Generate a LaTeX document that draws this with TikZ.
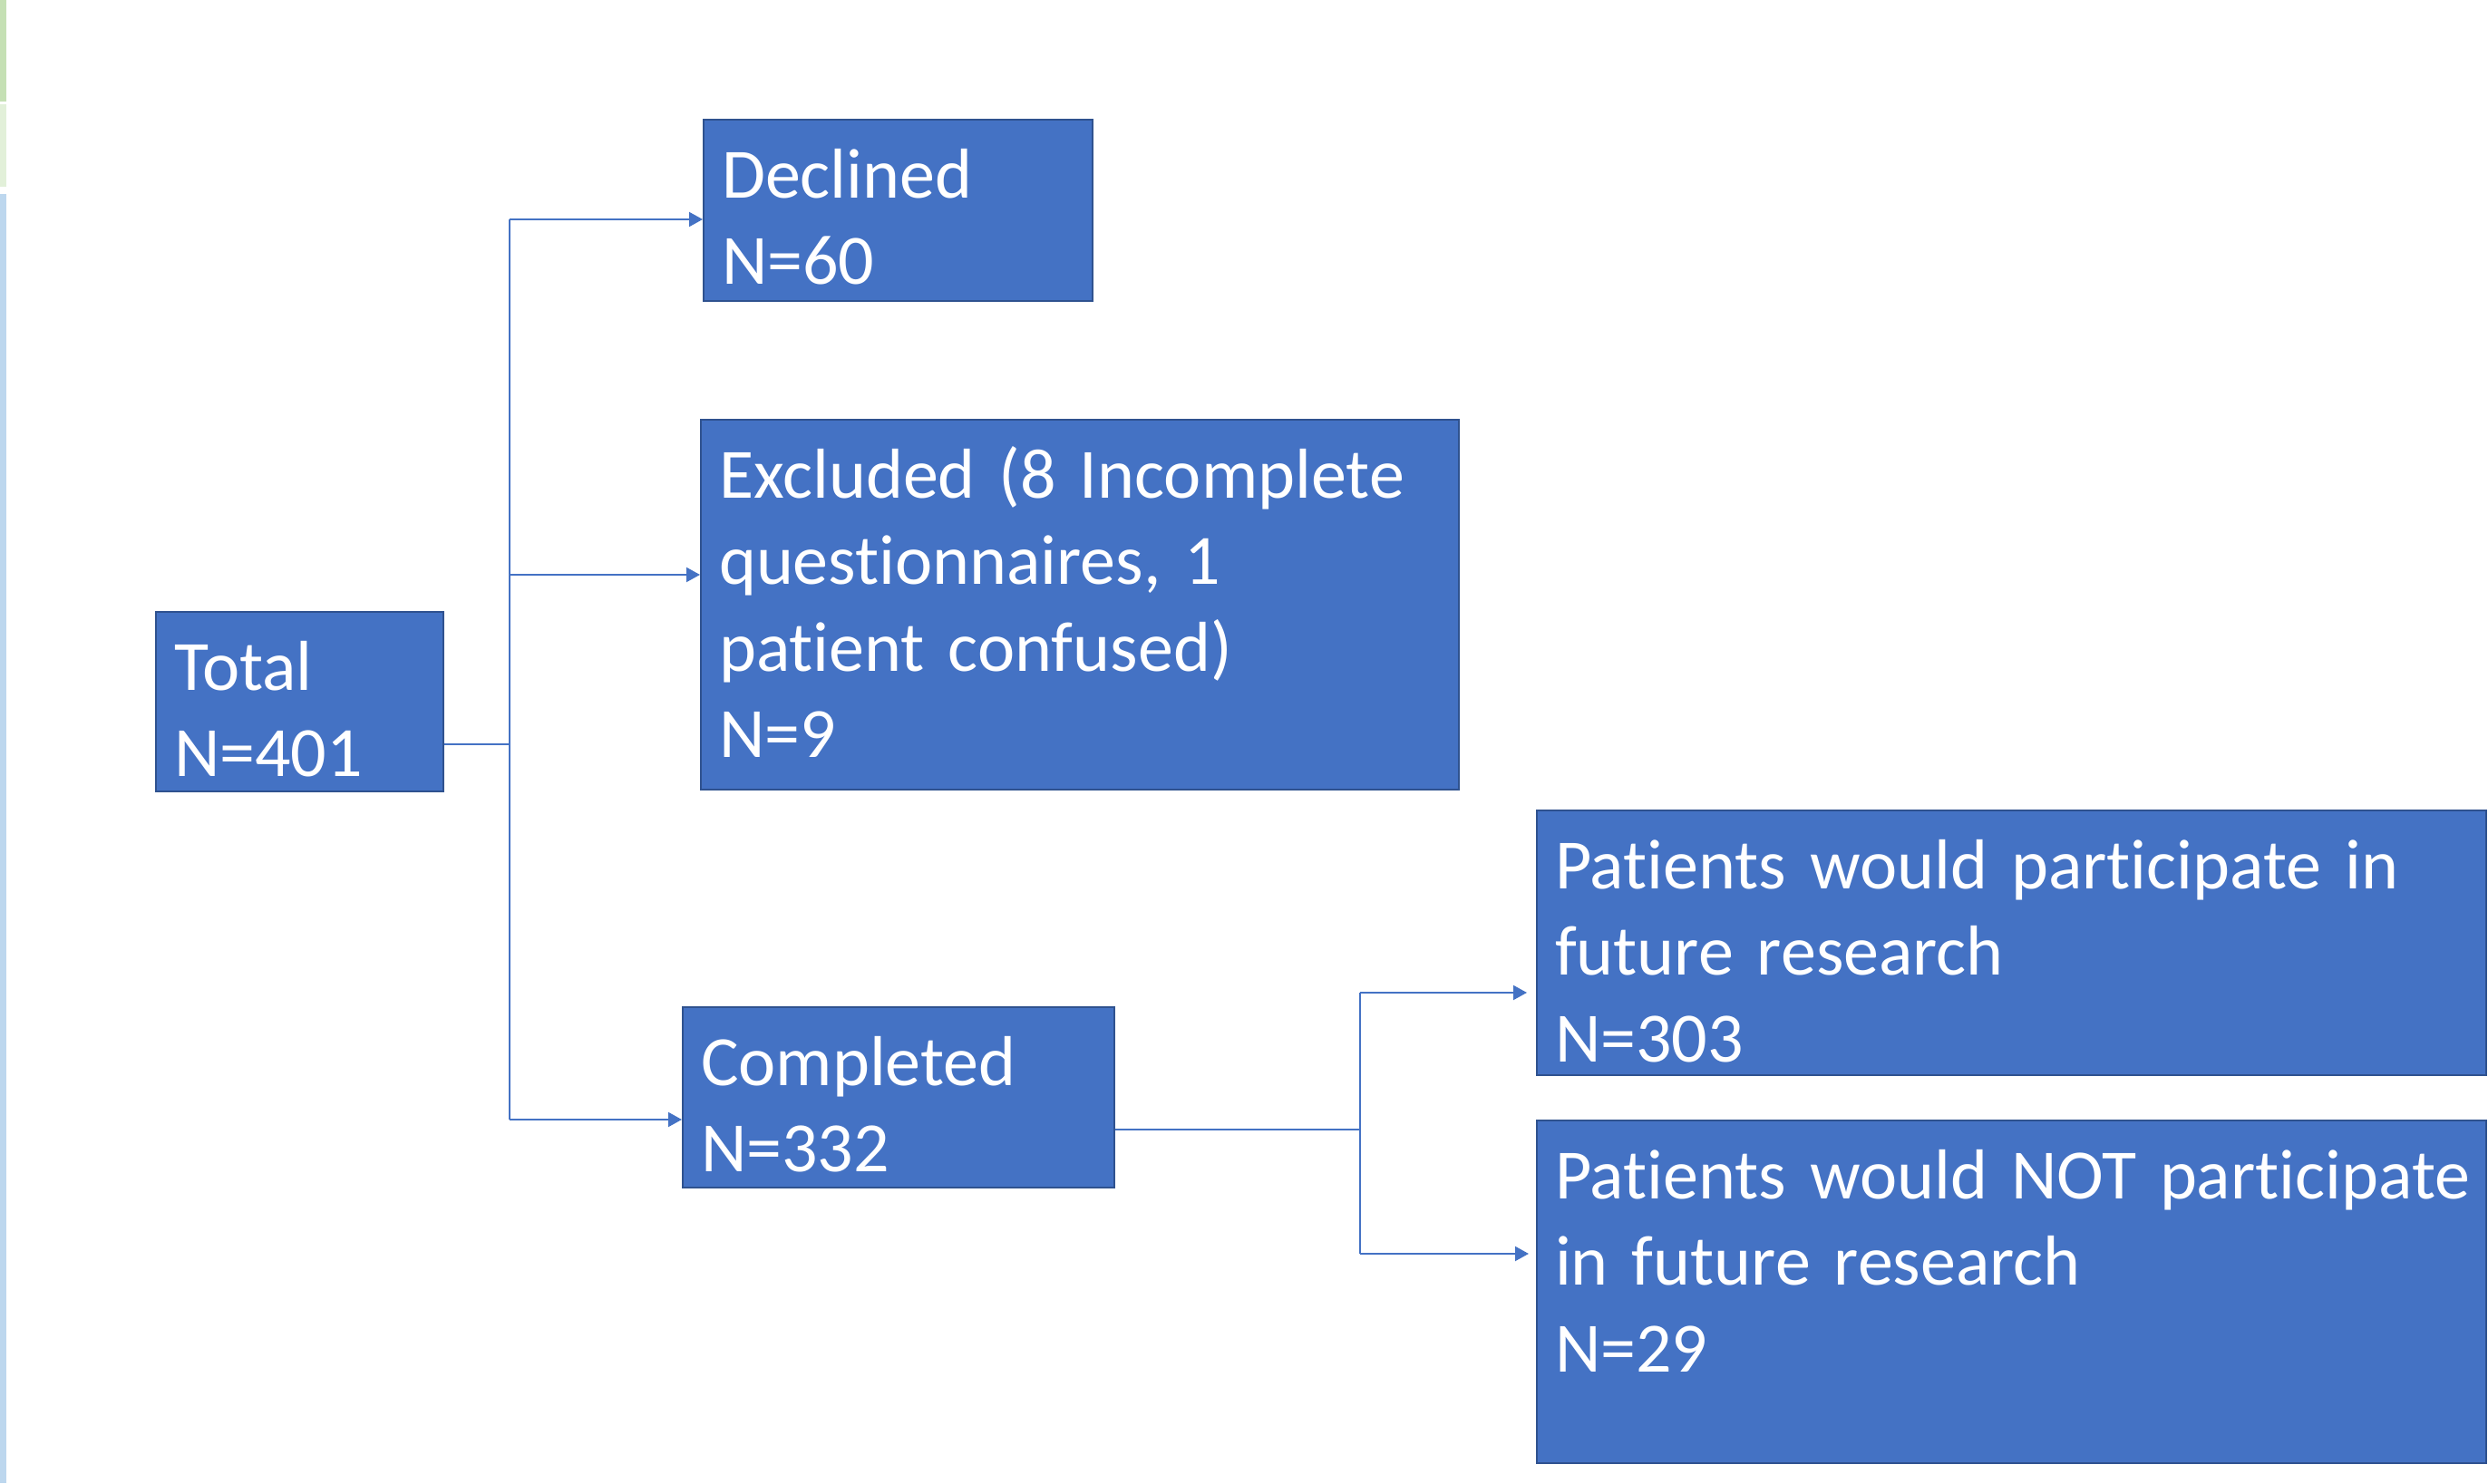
\documentclass[tikz,border=0pt]{standalone}
\usepackage{fontspec}
\setmainfont{Carlito}[Ligatures=NoCommon]
\usetikzlibrary{arrows.meta, calc}

\definecolor{boxfill}{HTML}{4472C4}
\definecolor{boxline}{HTML}{2F528F}
\definecolor{stripgreen}{HTML}{C5E0B4}
\definecolor{stripmint}{HTML}{E2F0D9}
\definecolor{stripblue}{HTML}{BDD7EE}

\tikzset{
  flowbox/.style={draw=boxline, fill=boxfill, text=white, line width=0.6pt,
    anchor=north west, inner xsep=0.2cm, inner ysep=0pt, align=left,
    font=\fontsize{22.2}{27.2}\selectfont, text height=0.86cm},
  link/.style={draw=boxfill, line width=0.6pt},
  arrow/.style={link, -{Triangle[length=0.15cm, width=0.16cm]}}
}

\begin{document}
\begin{tikzpicture}
        \useasboundingbox (0,0) rectangle (27.44,16.36);
        
        \fill[stripgreen] (0,16.36) rectangle (0.07,15.24);
        \fill[stripmint] (0,15.21) rectangle (0.07,14.30);
        \fill[stripblue] (0,14.22) rectangle (0.07,0);
        
        \node[flowbox, text width=2.77cm, text depth=1.12cm] (total) at (1.71,9.62) {Total\\N=401};
        \node[flowbox, text width=3.89cm, text depth=1.14cm] (declined) at (7.75,15.05) {Declined\\N=60};
        \node[flowbox, text width=7.96cm, text depth=3.22cm] (excluded) at (7.72,11.74)
            {Excluded (8 Incomplete\\questionnaires, 1\\patient confused)\\N=9};
        \node[flowbox, text width=4.36cm, text depth=1.13cm] (completed) at (7.52,5.26) {Completed\\N=332};
        \node[flowbox, text width=10.07cm, text depth=2.06cm] (would) at (16.94,7.43)
            {Patients would participate in\\future research\\N=303};
        \node[flowbox, text width=10.07cm, text depth=2.92cm] (wouldnot) at (16.94,4.01)
            {\mbox{Patients would NOT participate}\\in future research\\N=29};
        
        \coordinate (split) at (5.62,8.15);
        \coordinate (top) at (5.62,13.94);
        \coordinate (mid) at (5.62,10.02);
        \coordinate (low) at (5.62,4.01);
        
        \draw[link] (total.east |- split) -- (split);
        \draw[link] (top) -- (low);
        \draw[arrow] (top) -- (top -| declined.west);
        \draw[arrow] (mid) -- (mid -| excluded.west);
        \draw[arrow] (low) -- (low -| completed.west);
        
        \coordinate (fork) at (15.00,3.90);
        \coordinate (yes) at (15.00,5.41);
        \coordinate (no) at (15.00,2.53);
        
        \draw[link] (completed.east |- fork) -- (fork);
        \draw[link] (yes) -- (no);
        \draw[arrow, shorten >=0.1cm] (yes) -- (yes -| would.west);
        \draw[arrow, shorten >=0.08cm] (no) -- (no -| wouldnot.west);
    \end{tikzpicture}
\end{document}
